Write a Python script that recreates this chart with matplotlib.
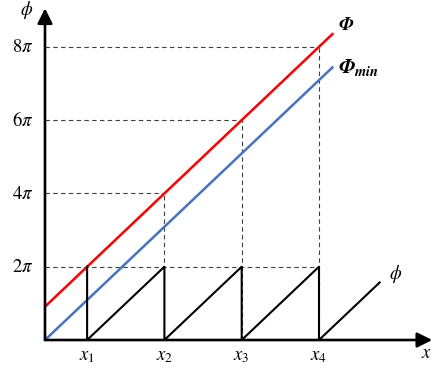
import matplotlib
matplotlib.use("Agg")
import matplotlib.pyplot as plt
import numpy as np

plt.rcParams['mathtext.fontset'] = 'stix'

# Positions of the wrap points x1..x4 (in units of the wrap period along x)
x_wrap = [0.545, 1.545, 2.545, 3.545]
x_labels = [r'$x_1$', r'$x_2$', r'$x_3$', r'$x_4$']
# Phase levels in units of pi
phase_levels = [2, 4, 6, 8]
phase_labels = [r'$2\pi$', r'$4\pi$', r'$6\pi$', r'$8\pi$']
# Phase slope (pi per unit x), end of the straight lines and of the last ramp
slope = 2.0
x_line_end = 3.73
x_ramp_end = 4.33

fig = plt.figure(figsize=(4.34, 3.69), dpi=100)
ax = fig.add_axes([0, 0, 1, 1])
ax.set_xlim(-0.582, 5.033)
ax.set_ylim(-0.791, 9.277)
ax.axis('off')

# Unwrapped phase Phi and Phi_min
xs = np.array([0.0, x_line_end])
phi_big = slope * (xs - x_wrap[0]) + phase_levels[0]
phi_min = slope * xs
ax.plot(xs, phi_big, color='#ff0000', lw=1.8, solid_capstyle='butt', zorder=3)
ax.plot(xs, phi_min, color='#4472c4', lw=1.8, solid_capstyle='butt', zorder=3)

# Wrapped phase: sawtooth starting at x1
saw_x = [x_wrap[0], x_wrap[0]]
saw_y = [phase_levels[0], 0]
for a, b in zip(x_wrap[:-1], x_wrap[1:]):
    saw_x += [b, b]
    saw_y += [slope * (b - a), 0]
saw_x.append(x_ramp_end)
saw_y.append(slope * (x_ramp_end - x_wrap[-1]))
ax.plot(saw_x, saw_y, color='black', lw=1.5, zorder=4)

# Dashed guides
dash = dict(color='#404040', lw=0.8, ls=(0, (4, 3)), zorder=1)
ax.plot([0, x_wrap[-1]], [phase_levels[0]] * 2, **dash)
for xv, lv in zip(x_wrap[1:], phase_levels[1:]):
    ax.plot([0, xv], [lv, lv], **dash)
    ax.plot([xv, xv], [0, lv], **dash)

# Axes with arrow heads
head = '-|>,head_length=0.9,head_width=0.45'
ax.annotate('', xy=(0, 9.05), xytext=(0, 0),
            arrowprops=dict(arrowstyle=head, lw=1.9, color='black',
                            shrinkA=0, shrinkB=0), zorder=5)
ax.annotate('', xy=(5.01, 0), xytext=(0, 0),
            arrowprops=dict(arrowstyle=head, lw=1.9, color='black',
                            shrinkA=0, shrinkB=0), zorder=5)

# Tick labels
for lv, lab in zip(phase_levels, phase_labels):
    ax.text(-0.15, lv, lab, ha='right', va='center', fontsize=13.5)
for xv, lab in zip(x_wrap, x_labels):
    ax.text(xv, -0.42, lab, ha='center', va='center', fontsize=13.5)

# Axis and curve labels
ax.text(-0.24, 9.0, r'$\phi$', ha='center', va='center', fontsize=13.5)
ax.text(4.93, -0.33, r'$x$', ha='center', va='center', fontsize=13.5)
ax.text(x_ramp_end + 0.12, 1.8, r'$\phi$', ha='left', va='center', fontsize=13.5)
ax.text(x_line_end + 0.06, phi_big[-1] + 0.25, r'$\mathbfit{\Phi}$',
        ha='left', va='center', fontsize=13.5)
ax.text(x_line_end + 0.06, phi_min[-1] - 0.02, r'$\mathbfit{\Phi_{min}}$',
        ha='left', va='center', fontsize=15)

fig.savefig('out.png', dpi=100)
